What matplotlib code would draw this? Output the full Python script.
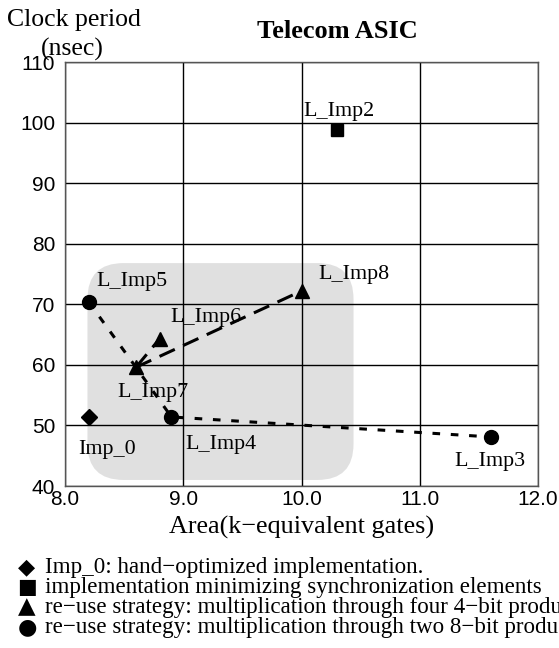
import matplotlib
matplotlib.use("Agg")
import matplotlib.pyplot as plt
from matplotlib.patches import FancyBboxPatch

# data
names = ["Imp_0", "L_Imp2", "L_Imp3", "L_Imp4", "L_Imp5", "L_Imp6", "L_Imp7", "L_Imp8"]
area = [8.2, 10.3, 11.6, 8.9, 8.2, 8.8, 8.6, 10.0]
period = [51.4, 98.8, 48.1, 51.4, 70.4, 64.3, 59.6, 72.2]
markers = ["D", "s", "o", "o", "o", "^", "^", "^"]

# paths between implementations
dotted_path = ["L_Imp5", "L_Imp7", "L_Imp4", "L_Imp3"]
dashed_paths = [["L_Imp7", "L_Imp8"], ["L_Imp7", "L_Imp6"]]

# label offsets in pixels (left edge, vertical centre)
label_off = {
    "Imp_0": (-10, -33), "L_Imp2": (-34, 18), "L_Imp3": (-36, -25),
    "L_Imp4": (14, -28), "L_Imp5": (8, 20), "L_Imp6": (11, 21),
    "L_Imp7": (-19, -25), "L_Imp8": (17, 16),
}

legend_marks = ["\u25c6", "\u25a0", "\u25b2", "\u25cf"]
legend_lines = [
    "Imp_0: hand\u2212optimized implementation.",
    "implementation minimizing synchronization elements",
    "re\u2212use strategy: multiplication through four 4\u2212bit products",
    "re\u2212use strategy: multiplication through two 8\u2212bit products",
]

serif = ["Liberation Serif", "DejaVu Serif"]
sans = ["Liberation Sans", "DejaVu Sans"]

fig = plt.figure(figsize=(5.59, 6.48), dpi=100)
ax = fig.add_axes([65 / 559, 1 - 486 / 648, 473 / 559, 424 / 648])
ax.set_xlim(8, 12)
ax.set_ylim(40, 110)

# shaded design-space region (rounded corners in pixels)
px_x = 473 / 4
px_y = 424 / 70
box = FancyBboxPatch((8.19, 41.0), 10.44 - 8.19, 76.8 - 41.0,
                     boxstyle="round,pad=0,rounding_size=%f" % (36 / px_x),
                     mutation_aspect=px_x / px_y,
                     facecolor="#e0e0e0", edgecolor="none", zorder=0)
ax.add_patch(box)

ax.set_xticks([8, 9, 10, 11, 12])
ax.set_yticks([40, 50, 60, 70, 80, 90, 100, 110])
ax.set_xticklabels(["8.0", "9.0", "10.0", "11.0", "12.0"], family=sans, fontsize=15)
ax.set_yticklabels(["40", "50", "60", "70", "80", "90", "100", "110"], family=sans, fontsize=15)
ax.tick_params(axis="y", length=0, pad=7)
ax.tick_params(axis="x", length=0, pad=3)
ax.grid(True, color="black", linewidth=1.0, zorder=1)
ax.set_axisbelow(True)
for s in ax.spines.values():
    s.set_color("#555555")
    s.set_linewidth(1.0)

idx = {n: i for i, n in enumerate(names)}

ax.plot([area[idx[n]] for n in dotted_path], [period[idx[n]] for n in dotted_path],
        color="black", linewidth=2.2, dashes=(2.5, 3.5), zorder=2)
for p in dashed_paths:
    ax.plot([area[idx[n]] for n in p], [period[idx[n]] for n in p],
            color="black", linewidth=2.2, dashes=(5.5, 3), zorder=2)

sizes = {"D": 8, "s": 8, "o": 10, "^": 10}
for n, x, y, m in zip(names, area, period, markers):
    ax.plot(x, y, marker=m, color="black", markersize=sizes[m], linestyle="none", zorder=3)
    dx, dy = label_off[n]
    ax.annotate(n, (x, y), xytext=(dx, dy), textcoords="offset pixels",
                ha="left", va="center", family=serif, fontsize=15.8, zorder=4)

ax.set_xlabel("Area(k\u2212equivalent gates)", family=serif, fontsize=18.8, labelpad=5)

fig.text(337 / 559, 1 - 32 / 648, "Telecom ASIC", ha="center", va="center",
         family=serif, fontsize=19, fontweight="bold")
fig.text(74 / 559, 1 - 20 / 648, "Clock period", ha="center", va="center",
         family=serif, fontsize=18.5)
fig.text(72 / 559, 1 - 49 / 648, "(nsec)", ha="center", va="center",
         family=serif, fontsize=18.5)

base0 = 573
mark_size = [16, 15, 16.5, 16]
for i, (mk, line) in enumerate(zip(legend_marks, legend_lines)):
    yb = 1 - (base0 + i * 20) / 648
    fig.text(27 / 559, yb, mk, ha="center", va="baseline",
             family="DejaVu Sans", fontsize=mark_size[i])
    fig.text(45 / 559, yb, line, ha="left", va="baseline",
             family=serif, fontsize=16.6)

fig.savefig("out.png", dpi=100)
